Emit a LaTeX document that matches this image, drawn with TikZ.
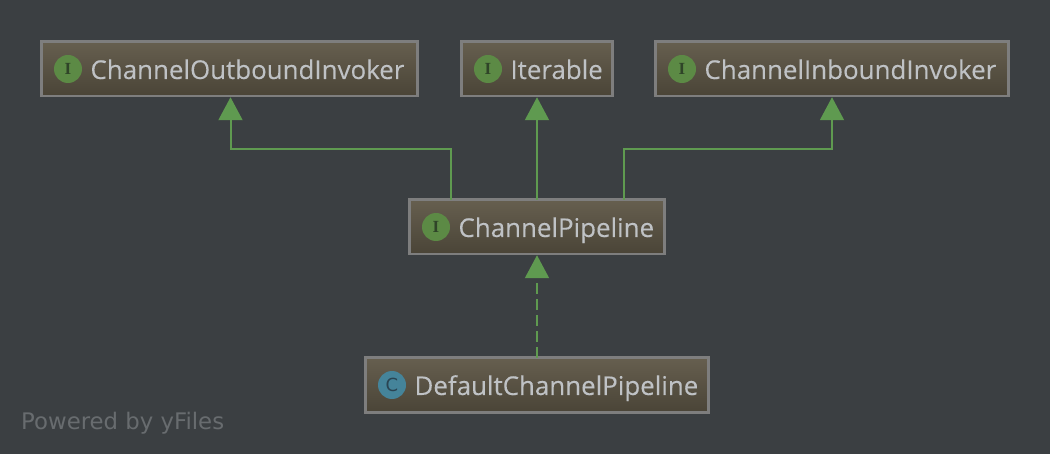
\documentclass[tikz,border=0pt]{standalone}
\usepackage{fontspec}
\setmainfont[FakeBold=0.12]{Open Sans}
\newfontfamily\serifi{Liberation Serif}
\newfontfamily\yf{DejaVu Sans}
\usetikzlibrary{arrows.meta,calc}
\definecolor{bg}{HTML}{3B3F42}
\definecolor{edge}{HTML}{7E7E7E}
\definecolor{boxtop}{HTML}{665F4F}
\definecolor{boxbot}{HTML}{4A4437}
\definecolor{lbl}{HTML}{BFC2C5}
\definecolor{grn}{HTML}{5F9A50}
\definecolor{ifill}{HTML}{5C8A45}
\definecolor{iink}{HTML}{2F4428}
\definecolor{cfill}{HTML}{45849A}
\definecolor{cink}{HTML}{2A4452}
\definecolor{pow}{HTML}{686C6F}
\tikzset{
  x=1pt,y=-1pt,
  umlbox/.style={draw=edge,line width=2.5pt,top color=boxtop,bottom color=boxbot,
    minimum height=54.5pt,text width=#1 pt,align=left,inner xsep=0pt,inner ysep=0pt,
    text height=27pt,text depth=7pt,
    text=lbl,font=\fontsize{25.9}{30}\selectfont,outer sep=0pt},
  icon/.style={circle,minimum size=28pt,inner sep=0pt,fill=ifill,text=iink,
    font=\serifi\bfseries\fontsize{17}{17}\selectfont},
  cicon/.style={icon,fill=cfill,text=cink,font=\yf\fontsize{18}{18}\selectfont},
  inherit/.style={draw=grn,line width=2pt,shorten >=1pt,
    -{Triangle[width=24pt,length=23pt,fill=grn]}},
  impl/.style={inherit,dash pattern=on 11pt off 5pt},
}
\begin{document}
\begin{tikzpicture}
\useasboundingbox[fill=bg] (0,0) rectangle (1050,454);
\node[umlbox=376] (outb) at (229.5,69) {\hspace*{49pt}ChannelOutboundInvoker};
\node[umlbox=151] (iter) at (537,69) {\hspace*{49pt}Iterable};
\node[umlbox=353] (inb) at (832,69) {\hspace*{49pt}ChannelInboundInvoker};
\node[umlbox=255] (pipe) at (537,227) {\hspace*{49pt}ChannelPipeline};
\node[umlbox=343] (dflt) at (537,385) {\hspace*{49pt}DefaultChannelPipeline};
\node[icon] (i1) at (68,69) {I};
\node[icon] (i2) at (488,69) {I};
\node[icon] (i3) at (682,69) {I};
\node[icon] (i4) at (436,227) {I};
\node[cicon] (i5) at (392,385) {C};
\coordinate (elbowL) at (451,149);
\coordinate (elbowR) at (623.5,149);
\draw[inherit] (pipe.north -| elbowL) -- (elbowL) -| ([xshift=1pt]outb.south);
\draw[inherit] (pipe.north) -- (iter.south);
\draw[inherit] (pipe.north -| elbowR) -- (elbowR) -| (inb.south);
\draw[impl] (dflt.north) -- (pipe.south);
\node[anchor=base west,inner sep=0pt,text=pow,font=\yf\fontsize{22.8}{24}\selectfont] (pw) at (21,429) {Powered by yFiles};
\end{tikzpicture}
\end{document}
